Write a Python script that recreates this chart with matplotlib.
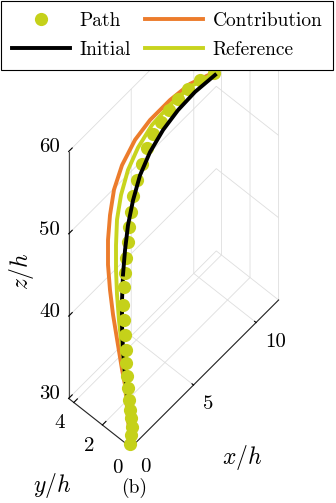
import matplotlib
matplotlib.use('Agg')
import matplotlib.pyplot as plt
import numpy as np
from mpl_toolkits.mplot3d import proj3d
from matplotlib.lines import Line2D

plt.rcParams['font.family'] = ['cmr10']
plt.rcParams['mathtext.fontset'] = 'cm'
plt.rcParams['axes.formatter.use_mathtext'] = True
plt.rcParams['font.size'] = 14
plt.rcParams['grid.color'] = '#dedede'
plt.rcParams['grid.linewidth'] = 0.6

# ---------------- data ----------------
path_x = [0.04, 0.31, 0.48, 0.63, 0.71, 0.86, 1.00, 1.08, 1.23, 1.36, 1.42, 1.44, 1.45, 1.50, 1.58,
          1.66, 1.82, 1.90, 2.06, 2.22, 2.54, 2.94, 3.34, 3.98, 4.69, 5.45, 6.22, 7.01, 7.83, 8.64]
path_y = [0.07, 0.24, 0.38, 0.55, 0.69, 0.86, 1.05, 1.23, 1.39, 1.54, 1.66, 1.75, 1.80, 1.80, 1.80,
          1.80, 1.80, 1.80, 1.80, 1.80, 1.80, 1.80, 1.80, 1.94, 2.00, 2.11, 2.15, 2.14, 2.02, 1.75]
path_z = [30.3, 30.7, 31.2, 31.9, 32.5, 33.3, 34.3, 35.4, 36.5, 37.7, 39.2, 40.9, 42.7, 44.7, 46.4,
          48.1, 49.8, 51.5, 53.0, 54.7, 56.2, 57.5, 58.9, 59.4, 59.7, 59.85, 59.95, 60.0, 60.0, 60.0]

contrib_x = [0.0, 0.35, 0.78, 0.78, 0.77, 0.59, 0.38, 0.22, 0.22, 0.38, 0.70, 1.34, 2.86, 4.28, 5.88, 7.30, 8.60]
contrib_y = [0.0, 0.51, 1.10, 1.31, 1.58, 1.77, 1.80, 1.80, 1.80, 1.80, 1.80, 1.80, 2.22, 2.41, 2.41, 2.26, 1.79]
contrib_z = [30.0, 32.1, 34.9, 36.5, 39.1, 42.8, 46.1, 49.4, 52.4, 55.2, 57.8, 59.8, 60.0, 60.0, 60.0, 60.0, 60.0]

ref_x = [0.0, 0.45, 0.86, 1.04, 1.04, 0.94, 0.86, 0.86, 0.94, 1.26, 1.82, 2.62, 4.13, 5.66, 7.17, 8.56]
ref_y = [0.0, 0.60, 1.17, 1.54, 1.75, 1.80, 1.80, 1.80, 1.80, 1.80, 1.80, 1.80, 2.14, 2.22, 2.14, 1.75]
ref_z = [30.0, 32.5, 35.3, 38.2, 41.5, 44.7, 47.8, 50.8, 53.8, 56.3, 58.5, 60.0, 60.0, 60.0, 60.0, 60.0]

init_x = [0.0, 0.74, 0.94, 1.12, 1.26, 1.34, 1.42, 1.58, 1.82, 2.22, 2.78, 3.58, 4.62, 5.82, 7.12, 8.58]
init_y = [0.0, 0.86, 1.24, 1.54, 1.73, 1.80, 1.80, 1.80, 1.80, 1.80, 1.80, 1.80, 1.80, 1.80, 1.75, 1.63]
init_z = [30.0, 33.5, 35.7, 38.1, 40.6, 43.4, 46.4, 49.1, 51.8, 54.2, 56.4, 58.0, 59.1, 59.7, 60.0, 60.0]

x_ticks = [0, 5, 10]
y_ticks = [0, 2, 4]
z_ticks = [30, 40, 50, 60]
x_lim = (0, 11.8)
y_lim = (0, 4.36)
z_lim = (30, 60)

c_path = '#c5d11a'
c_ref = '#c8d41e'
c_contrib = '#ec7c2c'
c_init = '#000000'

# ---------------- figure ----------------
W, H = 336, 503
fig = plt.figure(figsize=(W / 100, H / 100), dpi=100)
ax = fig.add_subplot(projection='3d', proj_type='ortho', computed_zorder=False)
ax.view_init(elev=62.5, azim=-138.4)
ax.set_box_aspect((222.3, 83.3, 534.6))
ax.set_xlim(*x_lim)
ax.set_ylim(*y_lim)
ax.set_zlim(*z_lim)
ax.set_xticks(x_ticks)
ax.set_yticks(y_ticks)
ax.set_zticks(z_ticks)
ax.xaxis.set_ticklabels([''] * len(x_ticks))
ax.yaxis.set_ticklabels([''] * len(y_ticks))
ax.zaxis.set_ticklabels([''] * len(z_ticks))

for axis, col in ((ax.xaxis, '#262626'), (ax.yaxis, '#262626'), (ax.zaxis, '#4d4d4d')):
    axis.set_pane_color((1, 1, 1, 0))
    axis.pane.set_edgecolor((1, 1, 1, 0))
    axis.line.set_color(col)
    axis.line.set_linewidth(0.8)
    axis._axinfo['tick'].update(inward_factor=0.0, outward_factor=0.3)
    axis._axinfo['tick']['linewidth'] = {True: 0.8, False: 0.6}
    axis._axinfo['tick']['color'] = col

lw = 2.8
k = 6  # split of the Initial curve: lower part hidden behind the markers
ax.plot(contrib_x, contrib_y, contrib_z, color=c_contrib, lw=lw, zorder=2)
ax.plot(ref_x, ref_y, ref_z, color=c_ref, lw=lw, zorder=2.1)
ax.plot(init_x[:k + 1], init_y[:k + 1], init_z[:k + 1], color=c_init, lw=lw, zorder=2.15)
ax.plot(path_x, path_y, path_z, ls='none', marker='o', ms=9.5, mfc=c_path, mec='none', zorder=2.2)
ax.plot(init_x[k:], init_y[k:], init_z[k:], color=c_init, lw=lw, zorder=2.3)

# calibrate axes position so the box lands where the reference shows it
fig.canvas.draw()
pts3d = [(0, 0, 30), (x_lim[1], 0, 30), (0, y_lim[1], 30), (0, 0, 60)]
targets = np.array([(131, H - 447.5), (278.5, H - 300), (68.7, H - 398.5), (131, H - 200.5)])


def project(x, y, z):
    xs, ys, _ = proj3d.proj_transform(x, y, z, ax.get_proj())
    return ax.transData.transform((xs, ys))


cur = np.array([project(*p) for p in pts3d])
bb = ax.get_position()
L, B, w = bb.x0 * W, bb.y0 * H, bb.width * W
q = cur - np.array([L, B])
qm, tm = q.mean(0), targets.mean(0)
f = ((q - qm) * (targets - tm)).sum() / ((q - qm) ** 2).sum()
c = tm - f * qm
ax.set_position([c[0] / W, c[1] / H, f * w / W, f * w / H])
fig.canvas.draw()

tick_fs = 15
for xv in x_ticks:
    px, py = project(xv, y_lim[0], z_lim[0])
    fig.text((px + 9) / W, (py - 19.5) / H, f'{xv}', ha='left', va='center', fontsize=tick_fs)
for yv in y_ticks:
    px, py = project(x_lim[0], yv, z_lim[0])
    fig.text((px - 8.5) / W, (py - 21) / H, f'{yv}', ha='right', va='center', fontsize=tick_fs)
for zv in z_ticks:
    px, py = project(x_lim[0], y_lim[1], zv)
    fig.text((px - 8.5) / W, (py + 4) / H, f'{zv}', ha='right', va='center', fontsize=tick_fs)

ax.set_xlabel('')
ax.set_ylabel('')
ax.set_zlabel('')
lab_fs = 17
fig.text(242 / W, 1 - 458 / H, r'$x/h$', ha='center', va='center', fontsize=lab_fs)
fig.text(52 / W, 1 - 485 / H, r'$y/h$', ha='center', va='center', fontsize=lab_fs)
fig.text(22 / W, 1 - 271 / H, r'$z/h$', ha='center', va='center', fontsize=lab_fs, rotation=90)
fig.text(134 / W, 1 - 488 / H, '(b)', ha='center', va='center', fontsize=14)

handles = [
    Line2D([], [], ls='none', marker='o', ms=9.5, mfc=c_path, mec='none'),
    Line2D([], [], color=c_init, lw=lw),
    Line2D([], [], color=c_contrib, lw=lw),
    Line2D([], [], color=c_ref, lw=lw),
]
labels = ['Path', 'Initial', 'Contribution', 'Reference']
leg = fig.legend(handles, labels, ncol=2, loc='upper left',
                 bbox_to_anchor=(1 / W, 1 - 1 / H, 332 / W, 0), mode='expand',
                 borderaxespad=0, fancybox=False, framealpha=1, edgecolor='black',
                 handlelength=3.0, handletextpad=0.5, columnspacing=0.6,
                 borderpad=0.55, labelspacing=0.6, numpoints=1, fontsize=14)
leg.get_frame().set_linewidth(0.8)

fig.savefig('out.png', dpi=100)
